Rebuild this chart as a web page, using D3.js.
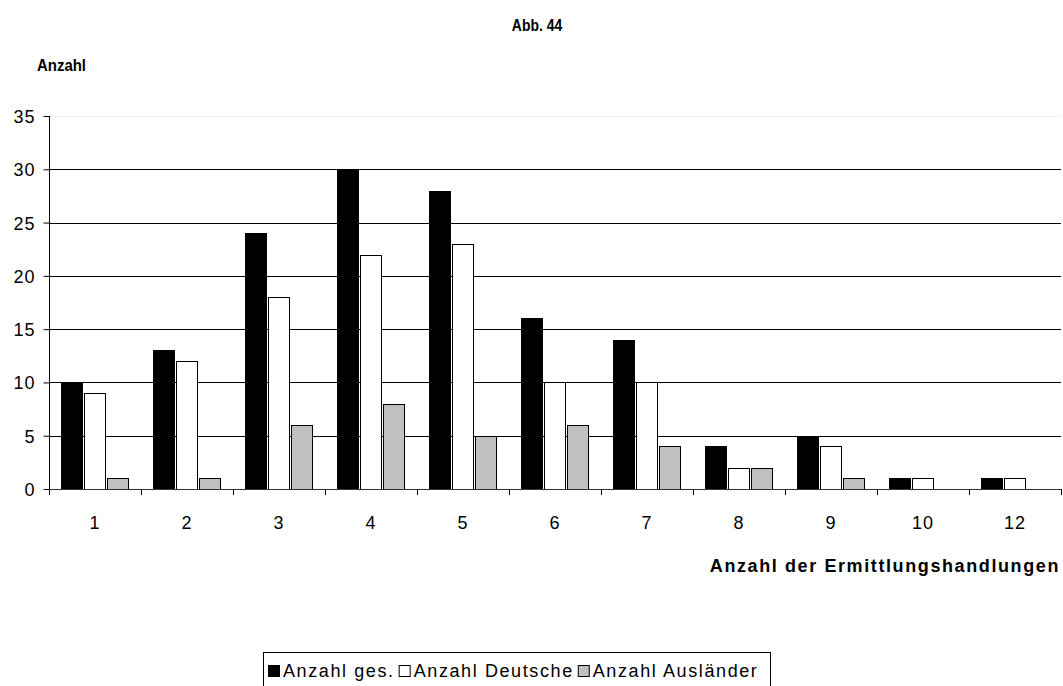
<!DOCTYPE html>
<html><head><meta charset="utf-8">
<script src="https://cdn.jsdelivr.net/npm/d3@7"></script>
<style>body{margin:0;background:#fff;} text{font-family:"Liberation Sans",Arial,sans-serif;}</style>
</head><body>
<svg id="c" width="1063" height="686"></svg>
<script>
const categories = ["1","2","3","4","5","6","7","8","9","10","12"];
const seriesNames = ["Anzahl ges.","Anzahl Deutsche","Anzahl Ausländer"];
const gesamt    = [10,13,24,30,28,16,14,4,5,1,1];
const deutsche  = [9,12,18,22,23,10,10,2,4,1,1];
const auslaender= [1,1,6,8,5,6,4,2,1,0,0];
const yTicks = [0,5,10,15,20,25,30,35];
const colors = ["#000000","#ffffff","#c0c0c0"];

const svg = d3.select("#c");
const L=49, R=1061, T=116, B=489;
const x = d3.scaleBand().domain(categories).range([L,R]);
const y = d3.scaleLinear().domain([0,35]).range([B,T]);
const xs = d3.scaleBand().domain(seriesNames).range([12, 81]).paddingInner(0.03);

// gridlines
svg.append("g").selectAll("line").data(yTicks.filter(d=>d>0)).join("line")
  .attr("x1",L).attr("x2",R)
  .attr("y1",d=>Math.round(y(d))+0.5).attr("y2",d=>Math.round(y(d))+0.5)
  .attr("stroke",d=>d===35?"#eeeeee":"#000").attr("stroke-width",1);

// bars
const data = [gesamt,deutsche,auslaender];
const g = svg.append("g");
data.forEach((arr,si)=>{
  g.selectAll(".s"+si).data(arr.map((v,i)=>({c:categories[i],v}))).join("rect")
   .filter(d=>d.v>0)
   .attr("x",d=>Math.round(x(d.c)+xs(seriesNames[si]))+0.5)
   .attr("width",21)
   .attr("y",d=>Math.round(y(d.v))+0.5)
   .attr("height",d=>Math.round(y(0))-Math.round(y(d.v)))
   .attr("fill",colors[si]).attr("stroke","#000").attr("stroke-width",1);
});

// y axis
const ya = svg.append("g").attr("transform",`translate(${L+0.5},0)`)
  .call(d3.axisLeft(y).tickValues(yTicks).tickSize(6).tickPadding(8).tickSizeOuter(0));
ya.select(".domain").remove();
ya.append("line").attr("x1",0).attr("x2",0).attr("y1",T).attr("y2",B+6).attr("stroke","#000");
ya.selectAll(".tick line").attr("stroke","#000");
ya.selectAll("text").attr("font-size",18).attr("fill","#000").attr("dy","0.36em")
  .style("font-family","Liberation Sans, Arial, sans-serif").style("letter-spacing","1px");

// x axis
svg.append("line").attr("x1",L).attr("x2",R).attr("y1",B+0.5).attr("y2",B+0.5).attr("stroke","#333");
const bounds = categories.map(c=>x(c)).concat([R]);
svg.append("g").selectAll("line").data(bounds.slice(1)).join("line")
  .attr("x1",d=>Math.round(d)+0.5).attr("x2",d=>Math.round(d)+0.5)
  .attr("y1",B).attr("y2",B+6).attr("stroke","#000");
svg.append("g").selectAll("text").data(categories).join("text")
  .attr("x",d=>x(d)+x.bandwidth()/2).attr("y",529)
  .attr("text-anchor","middle").attr("font-size",18).style("letter-spacing","1px").text(d=>d);

// titles (condensed bold)
svg.append("text").attr("transform","translate(537,31) scale(0.82,1)").attr("text-anchor","middle")
  .attr("font-size",17).attr("font-weight","bold").text("Abb. 44");
svg.append("text").attr("transform","translate(37,71) scale(0.88,1)")
  .attr("font-size",17).attr("font-weight","bold").text("Anzahl");
svg.append("text").attr("x",1060).attr("y",572).attr("text-anchor","end")
  .attr("font-size",18).attr("font-weight","bold").style("letter-spacing","1.6px")
  .text("Anzahl der Ermittlungshandlungen");

// legend
const lg = svg.append("g");
lg.append("rect").attr("x",263.5).attr("y",652.5).attr("width",507).attr("height",50)
  .attr("fill","#fff").attr("stroke","#000");
let cx = 268;
seriesNames.forEach((n,i)=>{
  lg.append("rect").attr("x",cx+0.5).attr("y",665.5).attr("width",11).attr("height",11)
    .attr("fill",colors[i]).attr("stroke","#000");
  const t = lg.append("text").attr("x",cx+15).attr("y",677).attr("font-size",18)
    .style("letter-spacing","1.6px").text(n);
  cx = cx + 15 + t.node().getBBox().width + 4;
});
</script>
</body></html>
